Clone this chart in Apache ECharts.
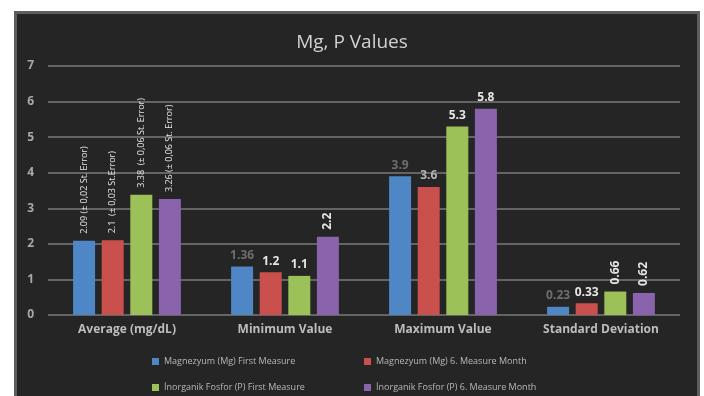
<!DOCTYPE html>
<html>
<head>
<meta charset="utf-8">
<script src="https://cdn.jsdelivr.net/npm/echarts@6/dist/echarts.min.js"></script>
<style>
  html, body { margin: 0; padding: 0; background: #fff; }
  #chart { width: 704px; height: 396px; }
</style>
</head>
<body>
<div id="chart"></div>
<script>
// Categories and series values
const categories = ['Average (mg/dL)', 'Minimum Value', 'Maximum Value', 'Standard Deviation'];
const seriesNames = [
  'Magnezyum (Mg) First Measure',
  'Magnezyum (Mg) 6. Measure Month',
  'İnorganik Fosfor (P) First Measure',
  'İnorganik Fosfor (P) 6. Measure Month'
];
const mgFirst = [2.09, 1.36, 3.9, 0.23];
const mgSixth = [2.1, 1.2, 3.6, 0.33];
const pFirst = [3.38, 1.1, 5.3, 0.66];
const pSixth = [3.26, 2.2, 5.8, 0.62];

// Value labels shown above bars
const mgFirstLabels = ['2.09 (± 0,02 St. Error)', '1.36', '3.9', '0.23'];
const mgSixthLabels = ['2.1  (± 0,03 St.Error)', '1.2', '3.6', '0.33'];
const pFirstLabels = ['3.38  (± 0,06 St. Error)', '1.1', '5.3', '0.66'];
const pSixthLabels = ['3.26 (± 0,06 St. Error)', '2.2', '5.8', '0.62'];

// Which labels are written vertically
const mgFirstRot = [true, false, false, false];
const mgSixthRot = [true, false, false, false];
const pFirstRot = [true, false, false, true];
const pSixthRot = [true, true, false, true];

// Faded label colours
const mgFirstLabelColors = ['#e6e6e6', '#6e6e6e', '#6e6e6e', '#6e6e6e'];
const mgSixthLabelColors = ['#e6e6e6', '#e6e6e6', '#b4b4b4', '#e6e6e6'];
const pFirstLabelColors = ['#e6e6e6', '#e6e6e6', '#e6e6e6', '#e6e6e6'];
const pSixthLabelColors = ['#e6e6e6', '#e6e6e6', '#e6e6e6', '#e6e6e6'];

const colors = ['#4f86c6', '#c9504d', '#9bc158', '#8a63ad'];
const yTicks = [0, 7, 1];

function buildData(values, labels, rot, lcol) {
  return values.map((v, i) => ({
    value: v,
    label: rot[i] ? {
      show: true, formatter: labels[i], rotate: 90, position: 'top',
      align: 'left', verticalAlign: 'middle', distance: 7,
      fontSize: i === 0 ? 9 : 12, color: lcol[i], fontWeight: i === 0 ? 'normal' : 'bold'
    } : {
      show: true, formatter: labels[i], position: 'top', distance: 5,
      fontSize: 12, color: lcol[i], fontWeight: 'bold'
    }
  }));
}

const seriesValues = [mgFirst, mgSixth, pFirst, pSixth];
const seriesLabels = [mgFirstLabels, mgSixthLabels, pFirstLabels, pSixthLabels];
const seriesRot = [mgFirstRot, mgSixthRot, pFirstRot, pSixthRot];
const seriesLabelColors = [mgFirstLabelColors, mgSixthLabelColors, pFirstLabelColors, pSixthLabelColors];

const legendPos = [[147, 352], [359, 352], [147, 378], [359, 378]];

const chart = echarts.init(document.getElementById('chart'));
chart.setOption({
  backgroundColor: '#ffffff',
  color: colors,
  animation: false,
  graphic: [{
    type: 'rect', z: -10, silent: true,
    shape: { x: 15.5, y: 12.5, width: 683, height: 400 },
    style: { fill: '#252525', stroke: '#5e5e5e', lineWidth: 3 }
  }],
  title: {
    text: 'Mg, P Values', left: 'center', top: 28,
    textStyle: { color: '#d2d2d2', fontSize: 19, fontWeight: 'normal', fontFamily: 'Open Sans' }
  },
  legend: legendPos.map((p, i) => ({
    data: [seriesNames[i]], left: p[0], top: p[1],
    icon: 'rect', itemWidth: 7, itemHeight: 7,
    textStyle: { color: '#b8b8b8', fontSize: 9, fontFamily: 'Open Sans' }
  })),
  grid: { left: 48, right: 24, top: 66, bottom: 81 },
  xAxis: {
    type: 'category', data: categories,
    axisLine: { show: false }, axisTick: { show: false },
    axisLabel: { color: '#bdbdbd', fontSize: 12, fontWeight: 'bold', margin: 9, fontFamily: 'Open Sans' }
  },
  yAxis: {
    type: 'value', min: yTicks[0], max: yTicks[1], interval: yTicks[2],
    axisLine: { show: false }, axisTick: { show: false },
    axisLabel: { color: '#a8a8a8', fontSize: 12, fontWeight: 'bold', margin: 14, fontFamily: 'Open Sans' },
    splitLine: { lineStyle: { color: '#7a7a7a', width: 1.5 } }
  },
  series: seriesValues.map((vals, i) => ({
    name: seriesNames[i], type: 'bar',
    barWidth: 22, barGap: '30%', barCategoryGap: '32%',
    data: buildData(vals, seriesLabels[i], seriesRot[i], seriesLabelColors[i]),
    label: { fontFamily: 'Open Sans' }
  }))
});
</script>
</body>
</html>
